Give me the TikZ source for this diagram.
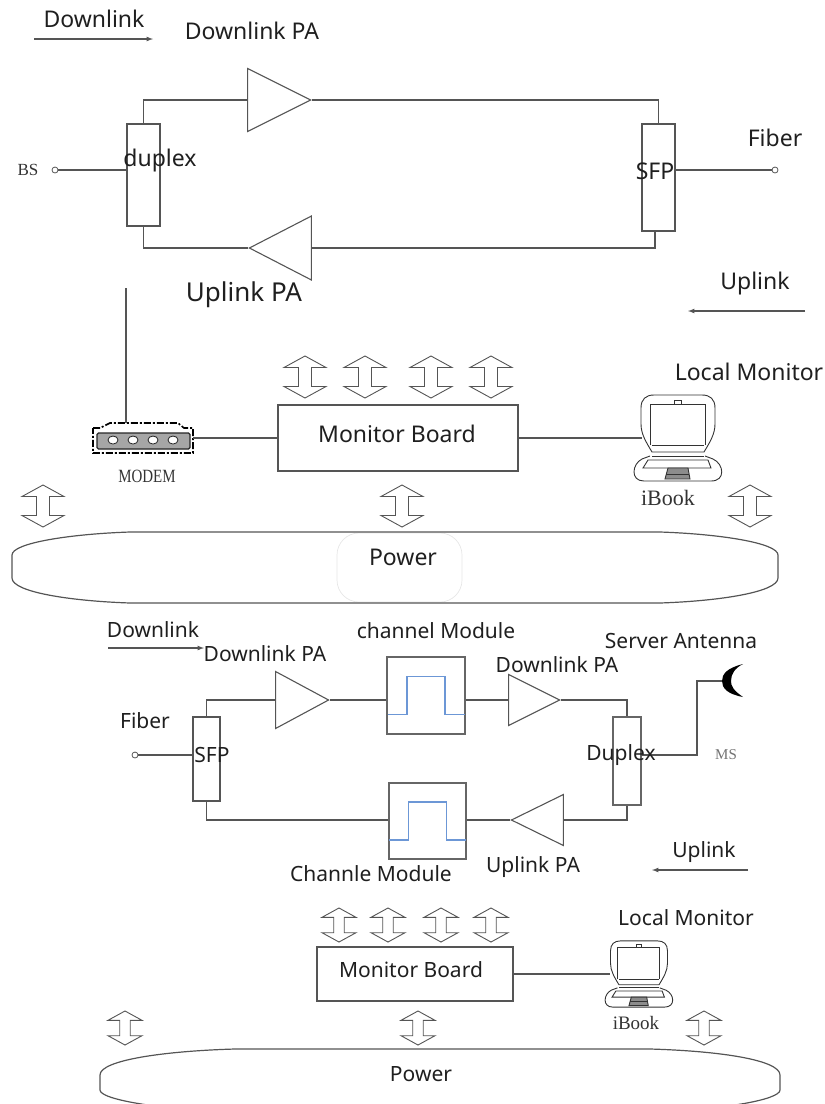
\documentclass[tikz,border=0pt]{standalone}
\usepackage{fontspec}
\setmainfont{Noto Sans}
\newfontfamily\labelserif{Liberation Serif}
\usetikzlibrary{shapes.geometric}
\definecolor{linegray}{HTML}{555555}
\definecolor{stepblue}{HTML}{6C97D6}
\definecolor{faintgray}{HTML}{E6E6E6}
\tikzset{
  wire/.style={draw=linegray,line width=1.2pt},
  blockbox/.style={draw=linegray,line width=1.2pt,inner sep=0pt,fill=none},
  filterbox/.style={draw=black!60,line width=1.3pt,inner sep=0pt},
  ampbox/.style={draw=linegray,line width=1.1pt,isosceles triangle,isosceles triangle stretches,inner sep=0pt},
  big/.style={text=black!88,inner sep=0pt,font=\fontsize{23}{25}\selectfont},
  small/.style={text=black!88,inner sep=0pt,font=\fontsize{21}{23}\selectfont},
  serif/.style={text=black!80,inner sep=0pt,font=\labelserif\fontsize{17}{19}\selectfont},
  port/.style={circle,draw=linegray,line width=.8pt,fill=white,inner sep=0pt,minimum size=6pt},
  pics/busarrow/.style={code={
    \draw[draw=linegray,line width=.9pt,fill=white] (0,-21) -- (21,-9.5) -- (6.5,-9.5) -- (6.5,9.5) -- (21,9.5)
      -- (0,21) -- (-21,9.5) -- (-6.5,9.5) -- (-6.5,-9.5) -- (-21,-9.5) -- cycle;
  }},
  pics/laptop/.style={code={
    \draw[draw=black!80,line width=.9pt] (-26,14) .. controls (-32,4) and (-37,-4) .. (-37,-14) -- (-37,-30)
      .. controls (-37,-39) and (-32,-43) .. (-24,-43) -- (24,-43) .. controls (32,-43) and (37,-39) .. (37,-30)
      -- (37,-14) .. controls (37,-4) and (32,4) .. (26,14) -- cycle;
    \draw[draw=black!80,line width=.9pt] (-28,7) -- (-28,-34) -- (27,-34) -- (27,7);
    \draw[draw=black!80,line width=.9pt] (-26,7) -- (26,7) (-26,18) -- (26,18);
    \draw[draw=black!80,line width=.7pt] (-4,-38) rectangle (3,-34);
    \draw[draw=black!80,line width=.9pt] (-28,18) -- (-36,21) .. controls (-46,26) and (-48,43) .. (-34,43)
      -- (33,43) .. controls (48,43) and (46,26) .. (35,21) -- (27,18);
    \draw[draw=black!80,line width=.9pt] (-30,22) -- (30,22) -- (33,30) -- (-35,30) -- cycle;
    \draw[draw=black!80,line width=.9pt,fill=black!45] (-10,30) -- (10,30) -- (12,41) -- (-13,41) -- cycle;
    \draw[draw=black!80,line width=.6pt] (-12,36) -- (11,36);
  }},
  pics/pulse/.style={code={
    \draw[stepblue,line width=1.2pt] (-38.5,19) -- (-19,19) -- (-19,-19) -- (19,-19) -- (19,19) -- (38.5,19);
  }},
}
\begin{document}
\begin{tikzpicture}[x=1pt,y=-1pt]
\useasboundingbox (0,0) rectangle (825,1104);
\clip (0,0) rectangle (825,1104);

% upper unit
\node[big] (dlTitleA) at (94,19) {Downlink};
\coordinate (dlFromA) at (34,39);
\coordinate (dlToA) at (153,39);
\draw[wire,-latex] (dlFromA) -- (dlToA);
\node[big] (dlLabelA) at (252,31) {Downlink PA};

\node[blockbox,minimum width=33pt,minimum height=102pt] (duplexA) at (143.5,175) {};
\node[blockbox,minimum width=33pt,minimum height=107pt] (sfpA) at (658.5,177.5) {};
\node[ampbox,minimum width=63pt,minimum height=63pt,anchor=apex] (dlAmpA) at (312,100) {};
\node[ampbox,shape border rotate=180,minimum width=64pt,minimum height=62pt,anchor=apex] (ulAmpA) at (248,248) {};
\node[port] (bsPort) at (55,170) {};
\node[port] (fiberPortA) at (775,170) {};
\coordinate (sfpLowA) at (655,231);

\draw[wire] (duplexA.north) |- (dlAmpA.lower side);
\draw[wire] (dlAmpA.apex) -| (sfpA.north);
\draw[wire] (duplexA.south) |- (ulAmpA.apex);
\draw[wire] (ulAmpA.lower side) -| (sfpLowA);
\draw[wire] (bsPort) -- (duplexA.west |- bsPort);
\draw[wire] (sfpA.east |- fiberPortA) -- (fiberPortA);

\node[serif] (bsLabel) at (28,170) {BS};
\node[big] (duplexText) at (160,161) {duplex};
\node[big] (sfpText) at (655,171) {SFP};
\node[big] (fiberText) at (775,138) {Fiber};
\node[big,font=\fontsize{26}{28}\selectfont] (ulLabelA) at (244,295) {Uplink PA};
\node[big] (ulTitleA) at (755,284) {Uplink};
\coordinate (ulFromA) at (805,311);
\coordinate (ulToA) at (688,311);
\draw[wire,-latex] (ulFromA) -- (ulToA);

% modem
\node[minimum width=100pt,minimum height=26pt,inner sep=0pt] (modem) at (143,438) {};
\draw[draw=black,line width=1.6pt,dash pattern=on 7pt off 2pt on 2pt off 2pt] (93,428) -- (100,428) -- (110,423) -- (178,423)
  -- (184,428) -- (193,428) -- (193,453) -- (93,453) -- cycle;
\node[draw=black!85,line width=1.1pt,fill=black!35,rounded corners=1.5pt,minimum width=93pt,minimum height=16pt,inner sep=0pt] (modemBody) at (143.5,441) {};
\foreach \x in {113,133,153,173}
  \node[ellipse,draw=black!85,line width=.8pt,fill=white,minimum width=10pt,minimum height=8pt,inner sep=0pt] at (\x,440) {};
\coordinate (modemFeed) at (126,288);
\coordinate (modemTop) at (126,423);
\draw[wire] (modemFeed) -- (modemTop);
\node[serif] (modemText) at (147,476) {\scalebox{.88}[1.1]{MODEM}};

\node[blockbox,minimum width=240pt,minimum height=66pt] (boardA) at (398,438) {};
\node[big] (boardTextA) at (397,434) {Monitor Board};
\draw[wire] (modem.east) -- (boardA.west);
\coordinate (laptopA) at (642,438);
\draw[wire] (boardA.east) -- (laptopA);
\pic at (678,438) {laptop};
\node[big] (localTextA) at (749,372) {Local Monitor};
\node[serif,font=\labelserif\fontsize{22}{24}\selectfont] (ibookA) at (668,498) {iBook};

\foreach \x in {305,365,431,491}
  \pic at (\x,377) {busarrow};
\foreach \x in {43,402,750}
  \pic at (\x,506) {busarrow};

\draw[faintgray,line width=.7pt,rounded corners=22pt] (337,533) rectangle (462,602);
\draw[wire] (130,532) -- (660,532) .. controls (720,534) and (778,543) .. (778,555) -- (778,578)
  .. controls (778,592) and (720,601) .. (660,603) -- (130,603)
  .. controls (70,601) and (12,592) .. (12,578) -- (12,555) .. controls (12,543) and (70,534) .. (130,532) -- cycle;
\node[big] (powerA) at (403,557) {Power};

% lower unit
\node[small] (dlTitleB) at (153,630) {Downlink};
\coordinate (dlFromB) at (108,648);
\coordinate (dlToB) at (204,648);
\draw[wire,-latex] (dlFromB) -- (dlToB);
\node[small] (dlLabelB) at (265,654) {Downlink PA};
\node[small] (chanLabelB) at (436,631) {channel Module};
\node[small] (antLabel) at (681,641) {Server Antenna};
\node[small] (dlLabelC) at (557,665) {Downlink PA};

\node[blockbox,minimum width=27pt,minimum height=84pt] (sfpB) at (206.5,759) {};
\node[blockbox,draw=black!60,minimum width=28pt,minimum height=88pt] (duplexB) at (627,761) {};
\node[ampbox,minimum width=57pt,minimum height=53pt,anchor=apex] (dlAmpB) at (330,700) {};
\node[ampbox,minimum width=51pt,minimum height=51pt,anchor=apex] (dlAmpC) at (561,700) {};
\node[ampbox,shape border rotate=180,minimum width=51pt,minimum height=52pt,anchor=apex] (ulAmpB) at (510,820) {};
\node[filterbox,minimum width=78pt,minimum height=77pt] (chanA) at (426,695.5) {};
\node[filterbox,minimum width=77pt,minimum height=76pt] (chanB) at (427.5,821) {};
\pic at (chanA) {pulse};
\pic at (chanB) {pulse};
\node[port] (fiberPortB) at (135,755) {};
\coordinate (antFeed) at (722,681);
\coordinate (duplexOut) at (641,755);
\coordinate (antBend) at (697,755);

\draw[wire] (sfpB.north) |- (dlAmpB.lower side);
\draw[wire] (dlAmpB.apex) -- (chanA.west |- dlAmpB.apex);
\draw[wire] (chanA.east |- dlAmpC.lower side) -- (dlAmpC.lower side);
\draw[wire] (dlAmpC.apex) -| (duplexB.north);
\draw[wire] (sfpB.south) |- (chanB.west |- ulAmpB.apex);
\draw[wire] (chanB.east |- ulAmpB.apex) -- (ulAmpB.apex);
\draw[wire] (ulAmpB.lower side) -| (duplexB.south);
\draw[wire] (fiberPortB) -- (sfpB.west |- fiberPortB);
\draw[wire] (duplexOut) -- (antBend) |- (antFeed);
\fill[black] (743,664) .. controls (727,668) and (722,674) .. (722,681) .. controls (722,688) and (727,694) .. (743,697)
  .. controls (733,690) and (731,686) .. (731,681) .. controls (731,674) and (735,668) .. (743,664) -- cycle;

\node[small] (fiberTextB) at (145,721) {Fiber};
\node[small] (sfpTextB) at (212,755) {SFP};
\node[small] (duplexTextB) at (621,755) {Duplex};
\node[serif,text=black!55,font=\labelserif\fontsize{15}{17}\selectfont] (msLabel) at (726,755) {MS};
\node[small] (chanLabelC) at (371,874) {Channle Module};
\node[small] (ulLabelB) at (533,867) {Uplink PA};
\node[small] (ulTitleB) at (704,852) {Uplink};
\coordinate (ulFromB) at (748,870);
\coordinate (ulToB) at (652,870);
\draw[wire,-latex] (ulFromB) -- (ulToB);

\node[blockbox,minimum width=196pt,minimum height=54pt] (boardB) at (415,974) {};
\node[small] (boardTextB) at (411,970) {Monitor Board};
\coordinate (laptopB) at (610,974);
\draw[wire] (boardB.east) -- (laptopB);
\pic[scale=.77] at (639,974) {laptop};
\node[small] (localTextB) at (686,918) {Local Monitor};
\node[serif,font=\labelserif\fontsize{19}{21}\selectfont] (ibookB) at (636,1023) {iBook};

\foreach \x in {339,388,441,491}
  \pic[scale=.81] at (\x,925) {busarrow};
\foreach \x in {125,418,704}
  \pic[scale=.81] at (\x,1028) {busarrow};

\draw[wire] (235,1049) -- (650,1049) .. controls (720,1051) and (780,1060) .. (780,1075) -- (780,1090)
  .. controls (780,1100) and (720,1110) .. (650,1112) -- (235,1112)
  .. controls (165,1110) and (100,1100) .. (100,1090) -- (100,1075) .. controls (100,1060) and (165,1051) .. (235,1049) -- cycle;
\node[small] (powerB) at (421,1074) {Power};
\end{tikzpicture}
\end{document}
